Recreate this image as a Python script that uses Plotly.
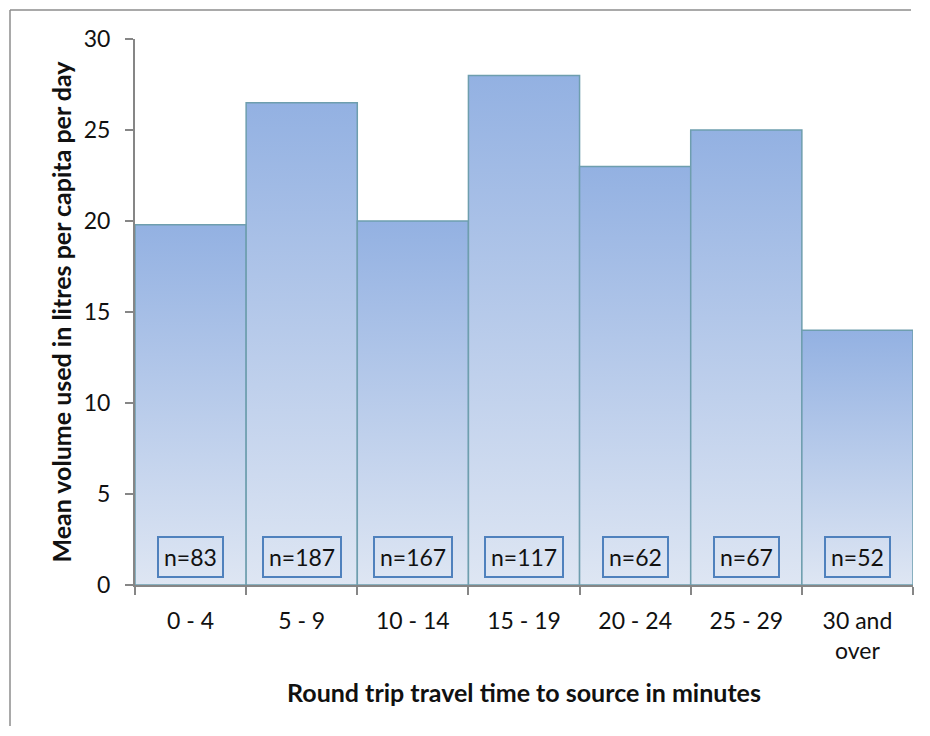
import plotly.graph_objects as go

categories = ["0 - 4", "5 - 9", "10 - 14", "15 - 19", "20 - 24", "25 - 29", "30 and<br>over"]
mean_volume = [19.8, 26.5, 20.0, 28.0, 23.0, 25.0, 14.0]
sample_sizes = [83, 187, 167, 117, 62, 67, 52]
y_ticks = [0, 5, 10, 15, 20, 25, 30]

FONT = "Lato"
edge = "#6E9EAE"
light = "#DEE6F3"
dark = "#93B1E2"

fig = go.Figure()
for i, v in enumerate(mean_volume):
    fig.add_trace(go.Scatter(
        x=[i, i, i + 1, i + 1, i],
        y=[0, v, v, 0, 0],
        mode="lines",
        fill="toself",
        fillgradient=dict(type="vertical", colorscale=[[0, light], [1, dark]]),
        line=dict(color=edge, width=1.5),
        hoverinfo="skip",
        showlegend=False,
    ))

for i, n in enumerate(sample_sizes):
    fig.add_annotation(
        x=i + 0.5, y=1.55, xref="x", yref="y",
        text=f"n={n}", showarrow=False,
        font=dict(family=FONT, size=23, color="#111111"),
        bordercolor="#4F81BD", borderwidth=2, borderpad=5,
        bgcolor="rgba(255,255,255,0)",
    )

# page body has an 8px margin; compensate so plot area lands at x 135..913, y 39..585
OFF = 8
W, H = 920, 718
L, T = 135 - OFF, 39 - OFF
pw, ph = 913 - 135, 585 - 39
R = W - L - pw
B = H - T - ph
fx0 = (10 - 135) / pw
fy1 = (585 - 10) / ph
frame = dict(color="#8C8C8C", width=1.5)
fig.add_shape(type="line", xref="paper", yref="paper", x0=fx0, x1=fx0, y0=(585 - 726) / ph, y1=fy1, line=frame, layer="below")
fig.add_shape(type="line", xref="paper", yref="paper", x0=fx0, x1=(911 - 135) / pw, y0=fy1, y1=fy1, line=frame, layer="below")

fig.update_layout(
    width=W, height=H,
    margin=dict(l=L, r=R, t=T, b=B),
    paper_bgcolor="white", plot_bgcolor="white",
    font=dict(family=FONT, size=23, color="#111111"),
    xaxis=dict(
        range=[0, 7], tickvals=[i + 0.5 for i in range(7)], ticktext=categories,
        ticks="", showgrid=False, zeroline=False,
        showline=True, linecolor="#868686", linewidth=2,
        minor=dict(tick0=0, dtick=1, ticks="outside", ticklen=8, tickcolor="#868686", tickwidth=2, showgrid=False),
        title=dict(text="<b>Round trip travel time to source in minutes</b>", font=dict(size=25), standoff=22),
        ticklabelstandoff=14,
    ),
    yaxis=dict(
        range=[0, 30], tickvals=y_ticks,
        ticks="outside", ticklen=8, tickcolor="#868686", tickwidth=2,
        showgrid=False, zeroline=False,
        showline=True, linecolor="#868686", linewidth=2,
        ticklabelstandoff=10,
        title=dict(text="<b>Mean volume used in litres per capita per day</b>", font=dict(size=25), standoff=5),
    ),
)

fig.write_html("out.html")
